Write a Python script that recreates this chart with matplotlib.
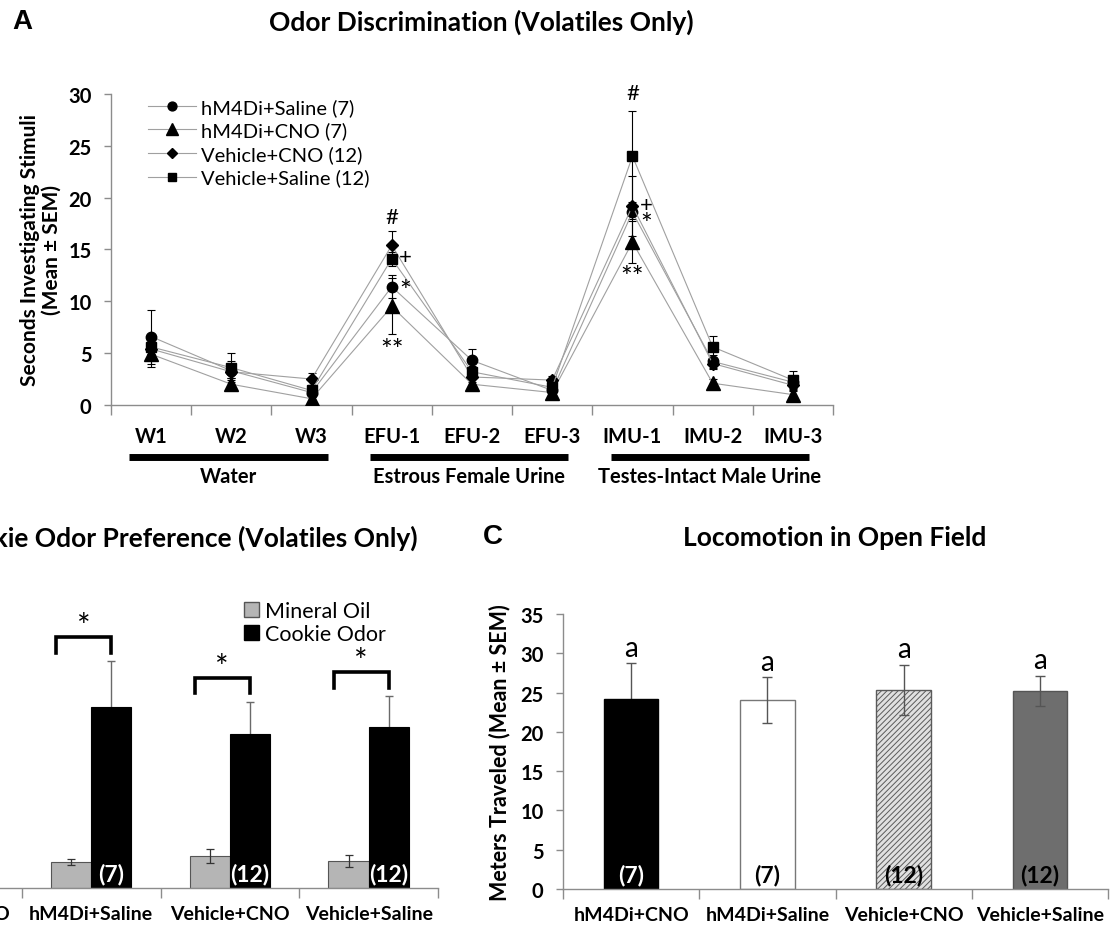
import matplotlib
matplotlib.use("Agg")
import matplotlib.pyplot as plt
import numpy as np
from matplotlib.patches import Patch

plt.rcParams['font.family'] = ['Lato', 'DejaVu Sans']
plt.rcParams['hatch.linewidth'] = 0.7

# ----------------------------
# Panel A data: odor discrimination (seconds)
# ----------------------------
trials_a = ['W1', 'W2', 'W3', 'EFU-1', 'EFU-2', 'EFU-3', 'IMU-1', 'IMU-2', 'IMU-3']
blocks_a = ['Water', 'Estrous Female Urine', 'Testes-Intact Male Urine']

saline_hm4di = [6.6, 3.3, 1.2, 11.4, 4.3, 1.4, 18.6, 4.2, 2.2]
saline_hm4di_sem = [2.6, 0.9, 0.4, 1.1, 1.1, 0.4, 0.7, 0.6, 0.6]
cno_hm4di = [4.9, 2.0, 0.6, 9.5, 2.0, 1.2, 15.7, 2.1, 1.0]
cno_hm4di_sem = [1.2, 0.6, 0.3, 2.7, 0.6, 0.3, 2.0, 0.4, 0.3]
cno_vehicle = [5.4, 3.2, 2.5, 15.4, 2.7, 2.4, 19.2, 4.0, 1.9]
cno_vehicle_sem = [0.6, 0.6, 0.6, 1.4, 0.5, 0.4, 2.9, 0.5, 0.5]
saline_vehicle = [5.6, 3.6, 1.4, 14.1, 3.2, 1.7, 24.0, 5.6, 2.4]
saline_vehicle_sem = [0.7, 1.4, 0.5, 0.7, 0.6, 0.4, 4.4, 1.1, 0.9]

# ----------------------------
# Panel B data: cookie odor preference (seconds)
# ----------------------------
groups = ['hM4Di+CNO', 'hM4Di+Saline', 'Vehicle+CNO', 'Vehicle+Saline']
mineral_oil = [3.0, 3.3, 4.1, 3.4]
mineral_oil_sem = [0.5, 0.35, 0.85, 0.75]
cookie_odor = [21.0, 23.1, 19.7, 20.6]
cookie_odor_sem = [4.0, 5.9, 4.1, 3.9]
n_labels = ['(7)', '(7)', '(12)', '(12)']

# ----------------------------
# Panel C data: locomotion (meters)
# ----------------------------
groups_c = ['hM4Di+CNO', 'hM4Di+Saline', 'Vehicle+CNO', 'Vehicle+Saline']
meters = [24.2, 24.05, 25.3, 25.2]
meters_sem = [4.5, 2.9, 3.2, 1.9]
n_labels_c = ['(7)', '(7)', '(12)', '(12)']

GRAY = '#8c8c8c'
TITLE_SIZE = 19
TICK_SIZE = 14


def style_axes(ax):
    for side in ['top', 'right']:
        ax.spines[side].set_visible(False)
    for side in ['left', 'bottom']:
        ax.spines[side].set_color(GRAY)
        ax.spines[side].set_linewidth(1.0)
    ax.tick_params(axis='y', colors=GRAY, labelcolor='black', length=5, width=1.0,
                   labelsize=14.5, pad=9)
    for lab in ax.get_yticklabels():
        lab.set_fontweight('bold')


def category_axis(ax, labels, pad, size=TICK_SIZE):
    n = len(labels)
    ax.set_xlim(-0.5, n - 0.5)
    ax.set_xticks(np.arange(n))
    ax.set_xticklabels(labels, fontsize=size, fontweight='bold')
    ax.set_xticks(np.arange(n + 1) - 0.5, minor=True)
    ax.tick_params(axis='x', which='major', length=0, pad=pad)
    ax.tick_params(axis='x', which='minor', length=7, width=1.0, color=GRAY)


fig = plt.figure(figsize=(11.12, 9.29), dpi=100)

# ----------------------------
# Panel A
# ----------------------------
axA = fig.add_axes([0.0998, 0.5630, 0.6493, 0.3348])
x = np.arange(len(trials_a))
series = [
    (saline_hm4di, saline_hm4di_sem, 'o', 7.5, 'hM4Di+Saline (7)'),
    (cno_hm4di, cno_hm4di_sem, '^', 9.5, 'hM4Di+CNO (7)'),
    (cno_vehicle, cno_vehicle_sem, 'D', 6, 'Vehicle+CNO (12)'),
    (saline_vehicle, saline_vehicle_sem, 's', 7, 'Vehicle+Saline (12)'),
]
handles = []
for vals, sem, mk, ms, lab in series:
    axA.errorbar(x, vals, yerr=sem, fmt='none', ecolor='black', elinewidth=0.8,
                 capsize=3, capthick=0.8, zorder=2)
    h, = axA.plot(x, vals, color='#a0a0a0', lw=0.8, marker=mk, ms=ms,
                  mfc='black', mec='black', label=lab, zorder=3)
    handles.append(h)

axA.set_ylim(0, 30)
axA.set_yticks([0, 5, 10, 15, 20, 25, 30])
category_axis(axA, trials_a, pad=15, size=14.5)
style_axes(axA)
axA.set_ylabel('Seconds Investigating Stimuli\n(Mean \u00b1 SEM)', fontsize=15,
               fontweight='bold', labelpad=5, linespacing=1.1)
axA.legend(handles=handles, loc='upper left', bbox_to_anchor=(0.026, 1.045),
           frameon=False, fontsize=14.5, handlelength=2.4, handletextpad=0.25,
           labelspacing=0.28, markerscale=0.85)

# significance marks on EFU-1 and IMU-1
for xi, hy, py, sy, dy in [(3, 18.1, 14.25, 11.5, 6.05), (6, 30.1, 19.25, 18.0, 13.0)]:
    axA.text(xi, hy, '#', ha='center', va='center', fontsize=16, clip_on=False)
    axA.text(xi + 0.17, py, '+', ha='center', va='center', fontsize=16)
    axA.text(xi + 0.17, sy - 0.6, '*', ha='center', va='center', fontsize=20)
    axA.text(xi, dy - 0.8, '**', ha='center', va='center', fontsize=20)

# block underlines and names
trans = axA.get_xaxis_transform()
for i, name in enumerate(blocks_a):
    start = 3 * i - 0.27
    end = 3 * i + 2.2
    axA.plot([start, end], [-0.167, -0.167], color='black', lw=5, transform=trans,
             clip_on=False, solid_capstyle='butt')
    axA.text((start + end) / 2, -0.228, name, transform=trans, ha='center', va='center',
             fontsize=14.5, fontweight='bold')

fig.text(0.011, 0.976, 'A', fontsize=20, fontweight='bold', family='Liberation Sans',
         ha='left', va='center')
fig.text(481 / 1112, 0.976, 'Odor Discrimination (Volatiles Only)', fontsize=TITLE_SIZE,
         fontweight='bold', ha='center', va='center')

# ----------------------------
# Panel B
# ----------------------------
axB = fig.add_axes([-0.1052, 0.0431, 0.4991, 0.2949])
xb = np.arange(len(groups))
w = 0.29
axB.bar(xb - w / 2, mineral_oil, w, color='#b5b5b5', edgecolor='#555555', lw=0.8,
        yerr=mineral_oil_sem, error_kw=dict(ecolor='#333333', elinewidth=0.9,
                                            capsize=3, capthick=0.9), zorder=2)
axB.errorbar(xb + w / 2, cookie_odor, yerr=cookie_odor_sem, fmt='none', ecolor='#6a6a6a',
             elinewidth=1.0, capsize=3, capthick=1.0, zorder=1)
axB.bar(xb + w / 2, cookie_odor, w, color='black', edgecolor='black', lw=0.8, zorder=2)
for i in range(len(groups)):
    axB.text(xb[i] + w / 2, 1.9, n_labels[i], ha='center', va='center', color='white',
             fontsize=16.5, fontweight='bold', zorder=3)
    top = cookie_odor[i] + cookie_odor_sem[i] + 3.05
    axB.plot([xb[i] - 0.25, xb[i] - 0.25, xb[i] + 0.145, xb[i] + 0.145],
             [top - 2.0, top, top, top - 2.0], color='black', lw=2.6, clip_on=False,
             solid_joinstyle='miter')
    axB.text(xb[i] - 0.055, top + 1.3, '*', ha='center', va='center', fontsize=23,
             clip_on=False)
axB.set_ylim(0, 35)
axB.set_yticks([0, 5, 10, 15, 20, 25, 30, 35])
category_axis(axB, groups, pad=12)
style_axes(axB)
axB.legend(handles=[Patch(facecolor='#b5b5b5', edgecolor='#555555', label='Mineral Oil'),
                    Patch(facecolor='black', edgecolor='black', label='Cookie Odor')],
           loc='upper left', bbox_to_anchor=(0.616, 1.118), frameon=False, fontsize=15.5,
           handlelength=0.7, handleheight=0.7, handletextpad=0.25, labelspacing=0.15)
fig.text(418 / 1112, 1 - 538 / 929, 'Cookie Odor Preference (Volatiles Only)',
         fontsize=TITLE_SIZE, fontweight='bold', ha='right', va='center')

# ----------------------------
# Panel C
# ----------------------------
axC = fig.add_axes([0.5063, 0.0420, 0.4901, 0.2960])
xc = np.arange(len(groups_c))
faces = ['black', 'white', '#e0e0e0', '#6e6e6e']
edges = ['black', '#777777', '#5a5a5a', '#555555']
hatches = [None, None, '//////', None]
text_colors = ['white', 'black', 'black', 'black']
for i in range(len(groups_c)):
    axC.bar(xc[i], meters[i], 0.4, color=faces[i], edgecolor=edges[i], lw=1.0,
            hatch=hatches[i], zorder=2)
    axC.errorbar(xc[i], meters[i], yerr=meters_sem[i], fmt='none', ecolor='#555555',
                 elinewidth=1.0, capsize=3.5, capthick=1.0,
                 zorder=1 if faces[i] == 'black' else 3)
    axC.text(xc[i], 1.9, n_labels_c[i], ha='center', va='center', color=text_colors[i],
             fontsize=16.5, fontweight='bold', zorder=4)
    axC.text(xc[i], meters[i] + meters_sem[i] + 2.0, 'a', ha='center', va='center',
             fontsize=20)
axC.set_ylim(0, 35)
axC.set_yticks([0, 5, 10, 15, 20, 25, 30, 35])
category_axis(axC, groups_c, pad=12)
style_axes(axC)
axC.set_ylabel('Meters Traveled (Mean \u00b1 SEM)', fontsize=15.5, fontweight='bold',
               labelpad=7)
fig.text(483 / 1112, 1 - 537 / 929, 'C', fontsize=20, fontweight='bold',
         family='Liberation Sans', ha='left', va='center')
fig.text(835 / 1112, 1 - 538 / 929, 'Locomotion in Open Field', fontsize=TITLE_SIZE,
         fontweight='bold', ha='center', va='center')

fig.savefig('out.png', dpi=100)
